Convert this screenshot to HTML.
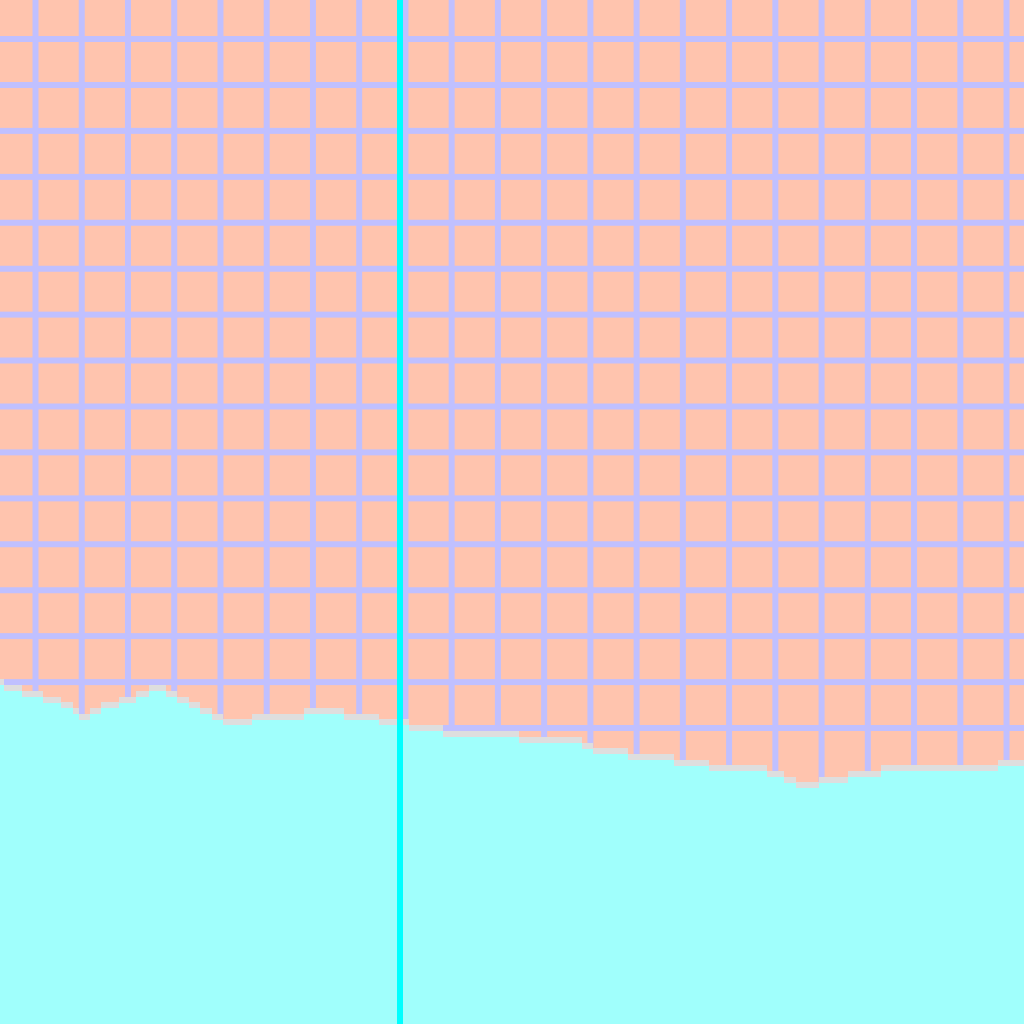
<!DOCTYPE html>
<html><head><meta charset="utf-8"><style>
html,body{margin:0;padding:0;background:#ffc4ae;}
svg{display:block;}
</style></head><body>
<svg id="chart" width="1024" height="1024" viewBox="0 0 1024 1024" xmlns="http://www.w3.org/2000/svg">
<rect x="0" y="0" width="1024" height="1024" fill="#ffc4ae"/>
<g id="grid"></g>
<g id="series"></g>
<g id="marker"></g>
</svg>
<script>
// step boundaries (x positions in data units) and heights of the area top
const stepStarts = [0,4,22,43,61,73,79,90,101,119,136,149,166,177,189,200,212,223,252,304,344,379,409,443,519,582,593,628,674,709,767,784,796,819,848,881,998];
const areaValues = [345,339,333,327,322,316,310,316,322,327,333,339,333,327,322,316,310,305,310,316,310,305,299,293,287,281,276,270,264,259,253,247,242,247,253,259,264];
const markerX = [400];
const xMax = 1024, yMax = 1024;

const NS = 'http://www.w3.org/2000/svg';
function xScale(v){ return v / xMax * 1024; }
function yScale(v){ return 1024 - v / yMax * 1024; }

const grid = document.getElementById('grid');
for (let i = 0; i < 23; i++) {
  const x = 35.5 + i * 46.24;
  const l = document.createElementNS(NS, 'line');
  
  
  l.setAttribute('x1', x); l.setAttribute('x2', x);
  l.setAttribute('y1', 0); l.setAttribute('y2', 1024);
  l.setAttribute('stroke', '#c0c0ff'); l.setAttribute('stroke-width', 6);
  grid.appendChild(l);
}
for (let i = 0; i < 17; i++) {
  const y = 728 - i * 45.93;
  const l = document.createElementNS(NS, 'line');
  
  
  l.setAttribute('x1', 0); l.setAttribute('x2', 1024);
  l.setAttribute('y1', y); l.setAttribute('y2', y);
  l.setAttribute('stroke', '#c0c0ff'); l.setAttribute('stroke-width', 6);
  grid.appendChild(l);
}

let d = 'M0,1024';
for (let i = 0; i < stepStarts.length; i++) {
  const x0 = xScale(stepStarts[i]);
  const x1 = i + 1 < stepStarts.length ? xScale(stepStarts[i + 1]) : 1024;
  const y = yScale(areaValues[i]);
  d += ' L' + x0 + ',' + y + ' L' + x1 + ',' + y;
}
d += ' L1024,1024 Z';
const series = document.getElementById('series');
const edge = document.createElementNS(NS, 'path');


edge.setAttribute('d', d);
edge.setAttribute('fill', '#dedede');
series.appendChild(edge);
const fill = document.createElementNS(NS, 'path');


fill.setAttribute('d', d);
fill.setAttribute('fill', '#a0fffc');
fill.setAttribute('transform', 'translate(0,6)');
series.appendChild(fill);

const marker = document.getElementById('marker');
markerX.forEach(function(v){
  const r = document.createElementNS(NS, 'rect');
  
  
  r.setAttribute('x', xScale(v) - 3); r.setAttribute('y', 0);
  r.setAttribute('width', 6); r.setAttribute('height', 1024);
  r.setAttribute('fill', '#00ffff');
  marker.appendChild(r);
});
</script>
</body></html>
